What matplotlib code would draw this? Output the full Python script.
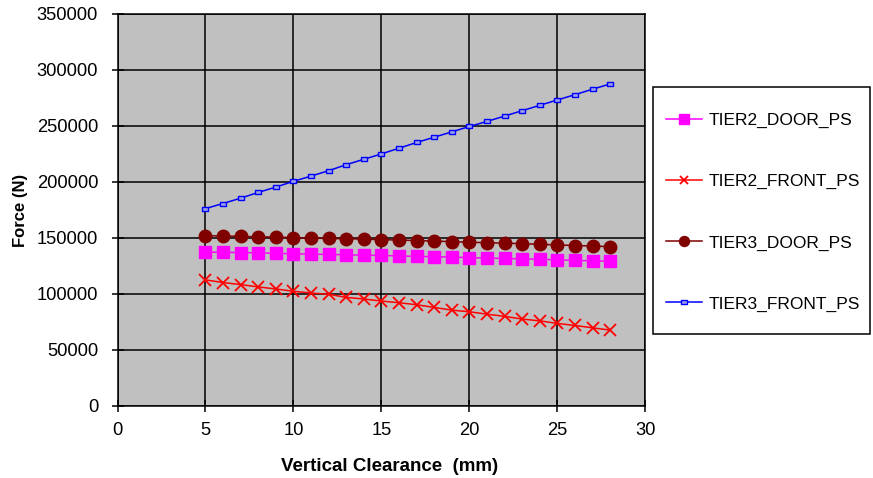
import matplotlib
matplotlib.use('Agg')
import matplotlib.pyplot as plt
from matplotlib.patches import Rectangle
from matplotlib.path import Path

plt.rcParams['font.family'] = ['Liberation Sans', 'DejaVu Sans']

clearance = list(range(5, 29))

tier2_door = [137400, 137200, 137000, 136700, 136300, 135900, 135600, 135300,
              135000, 134700, 134400, 134000, 133600, 133300, 133000, 132400,
              132100, 131700, 131400, 131000, 130500, 130000, 129600, 129200]
tier2_front = [112600, 110200, 108400, 106300, 104500, 102400, 100900, 99700,
               97000, 95500, 93700, 92200, 90400, 88000, 85600, 84100,
               82000, 80000, 77600, 76000, 73700, 71900, 69800, 67700]
tier3_door = [152000, 151800, 151400, 151100, 150800, 150300, 149900, 149600,
              149300, 149000, 148500, 148200, 147700, 147200, 146800, 146200,
              145800, 145400, 144900, 144400, 143800, 143300, 142800, 142300]
tier3_front = [176300, 180800, 185600, 190700, 195500, 200600, 205300, 210100,
               215500, 220300, 225100, 230200, 235300, 240000, 244800, 249600,
               254100, 258900, 263700, 268500, 273300, 278000, 282900, 287600]

labels = ['TIER2_DOOR_PS', 'TIER2_FRONT_PS', 'TIER3_DOOR_PS', 'TIER3_FRONT_PS']

# small flat rectangle, like the excel dash marker
dash = Path([(-1, -0.55), (1, -0.55), (1, 0.55), (-1, 0.55), (-1, -0.55)],
            [Path.MOVETO, Path.LINETO, Path.LINETO, Path.LINETO, Path.CLOSEPOLY])

fig = plt.figure(figsize=(8.73, 4.78), dpi=100)
ax = fig.add_axes([117.5/873, 1 - 406/478, (645.5 - 117.5)/873, (406 - 14)/478])
ax.set_facecolor('#C0C0C0')

ax.plot(clearance, tier2_door, color='#FF00FF', lw=1.1, marker='s', ms=8.5,
        mfc='#FF00FF', mec='#FF00FF', label=labels[0], zorder=3)
ax.plot(clearance, tier2_front, color='#FF0000', lw=1.1, marker='x', ms=8,
        mew=1.3, label=labels[1], zorder=3)
ax.plot(clearance, tier3_door, color='#800000', lw=1.1, marker='o', ms=9,
        mfc='#800000', mec='#800000', label=labels[2], zorder=3)
ax.plot(clearance, tier3_front, color='#0000FF', lw=1.1, marker=dash, ms=5,
        mfc='#A0A0E8', mec='#0000FF', mew=1.0, label=labels[3], zorder=3)

ax.set_xlim(0, 30)
ax.set_ylim(0, 350000)
ax.set_xticks(range(0, 31, 5))
ax.set_yticks(range(0, 350001, 50000))
ax.grid(True, color='black', lw=1.1)
ax.set_axisbelow(True)
for s in ax.spines.values():
    s.set_color('black')
    s.set_linewidth(1.1)
ax.tick_params(direction='inout', length=9, width=1.1, labelsize=13.2)
ax.tick_params(axis='x', pad=7)
ax.tick_params(axis='y', pad=9.5)

ax.set_xlabel('Vertical Clearance  (mm)', fontsize=13.5, fontweight='bold',
              labelpad=14, x=0.515)
ax.set_ylabel('Force (N)', fontsize=12, fontweight='bold', labelpad=6)

fig.legend(loc='upper left', bbox_to_anchor=(665.7/873, 1 - 113/478),
           frameon=False, fontsize=12.5, borderpad=0, borderaxespad=0,
           labelspacing=2.64, handlelength=2.1, handletextpad=0.36, markerscale=0.8)
fig.patches.append(Rectangle((653/873, 1 - 334/478), (870 - 653)/873, (334 - 87)/478,
                             transform=fig.transFigure, fill=False,
                             edgecolor='black', lw=1.1))

fig.savefig('out.png', dpi=100)
